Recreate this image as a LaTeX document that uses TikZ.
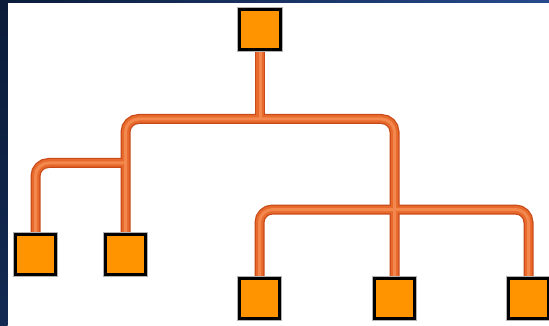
\documentclass[tikz,border=0pt]{standalone}
\usetikzlibrary{backgrounds}
\definecolor{navy}{HTML}{0B1C3A}
\definecolor{navyb}{HTML}{264A8C}
\definecolor{boxorange}{HTML}{FF9400}
\definecolor{tubeedge}{HTML}{C94A18}
\definecolor{tubemid}{HTML}{E8692C}
\definecolor{tubelight}{HTML}{F2884E}
\tikzset{
  orgbox/.style={rectangle, minimum size=40.5pt, inner sep=0pt, fill=boxorange,
    draw=black, line width=3pt, preaction={draw=gray!60, line width=4.6pt}},
  tubeA/.style={draw=tubeedge, line width=10pt, rounded corners=13pt},
  tubeB/.style={draw=tubemid, line width=7.5pt, rounded corners=13pt},
  tubeC/.style={draw=tubelight, line width=3pt, rounded corners=13pt},
}
\newcommand\treepaths[1]{%
  \draw[#1] (top.south) -- (jt);
  \draw[#1] (L2.north) |- (jt) -| (B2.north);
  \draw[#1] (L1.north) |- (jl);
  \draw[#1] (B1.north) |- (jr) -| (B3.north);
}
\begin{document}
\begin{tikzpicture}[x=1pt,y=-1pt]
\useasboundingbox (0,0) rectangle (549,326);
% boxes
\node[orgbox] (top) at (260,29.5) {};
\node[orgbox] (L1) at (35.5,254.5) {};
\node[orgbox] (L2) at (125.5,254.5) {};
\node[orgbox] (B1) at (259.5,298.5) {};
\node[orgbox] (B2) at (394.5,298.5) {};
\node[orgbox] (B3) at (528.5,298.5) {};
% junctions
\coordinate (jt) at (260,119);
\coordinate (jl) at (125.5,163);
\coordinate (jr) at (394.5,209.5);
\begin{pgfonlayer}{background}
\fill[white] (0,0) rectangle (549,326);
\shade[left color=navy, right color=navyb] (0,0) rectangle (549,2.8);
\shade[top color=navy, bottom color=navy!70!navyb] (0,0) rectangle (7.6,326);
\treepaths{tubeA}
\treepaths{tubeB}
\treepaths{tubeC}
\end{pgfonlayer}
\end{tikzpicture}
\end{document}
